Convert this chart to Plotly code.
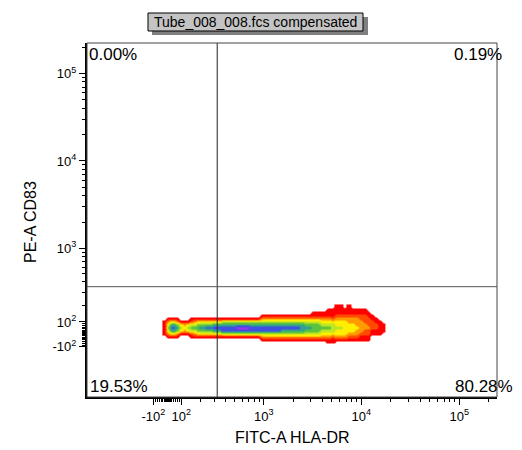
import numpy as np
import plotly.graph_objects as go

# ---------------- data ----------------
TITLE = "Tube_008_008.fcs compensated"
X_LABEL = "FITC-A HLA-DR"
Y_LABEL = "PE-A CD83"

# quadrant gate (data units) and quadrant percentages
GATE_X = 320.0
GATE_Y = 350.0
Q_UL = "0.00%"
Q_UR = "0.19%"
Q_LL = "19.53%"
Q_LR = "80.28%"

# axis extents (data units)
X_MIN, X_MAX = -680.0, 243000.0
Y_MIN, Y_MAX = -530.0, 223000.0

# major ticks and labels
MAJOR_VALS = [-100, 100, 1000, 10000, 100000]
MAJOR_TEXT = ["-10<sup>2</sup>", "10<sup>2</sup>", "10<sup>3</sup>", "10<sup>4</sup>", "10<sup>5</sup>"]
MINOR_VALS = ([-90, -80, -70, -60, -50, -40, -30, -20, -10, 0, 10, 20, 30, 40, 50, 60, 70, 80, 90]
              + [200, 300, 400, 500, 600, 700, 800, 900]
              + [2000, 3000, 4000, 5000, 6000, 7000, 8000, 9000]
              + [20000, 30000, 40000, 50000, 60000, 70000, 80000, 90000, 200000])

# density grid (display-space bins), one string per column, top row first
# 0 empty, 1 red, 2 red-orange, 3 orange, 4 yellow, 5 yellow-green, 6 green, 7 teal, 8 blue, 9 purple
DENSITY_COLS = [
    "0000011111000",
    "0000135653100",
    "0000147874100",
    "0000136763100",
    "0000014541000",
    "0000013431000",
    "0000014541000",
    "0000125652100",
    "0000135653100",
    "0000146764100",
    "0000146764100",
    "0000146864100",
    "0000146864100",
    "0000147874100",
    "0000147874100",
    "0000157885100",
    "0000157885100",
    "0000157885100",
    "0000157885100",
    "0000157985100",
    "0000157985100",
    "0000157985100",
    "0000157885100",
    "0000157885100",
    "0000157885100",
    "0001357885310",
    "0001357885310",
    "0001357885310",
    "0001357885310",
    "0001357885310",
    "0001357875310",
    "0001357875310",
    "0001357875310",
    "0001357875310",
    "0001357875310",
    "0001357775310",
    "0001356765310",
    "0001356765310",
    "0011356665310",
    "0011356665310",
    "0011345654310",
    "0011345654310",
    "0111345654311",
    "0111245554211",
    "1112344544310",
    "1112344544310",
    "0112344444310",
    "1112334443210",
    "0112334443210",
    "0112333433210",
    "0112233332110",
    "0112223322110",
    "0011222322110",
    "0001122211000",
    "0000112211000",
    "0000011111000",
    "0000001110000",
]
DENSITY_COLORS = ["#ffffff", "#ff0000", "#ff4a00", "#ff9a00", "#ffee00",
                  "#bfe620", "#5cc43c", "#2fa090", "#3f4fe0", "#a030f0"]

# display-space binning of the density grid
X_BIN0, X_BINW = -0.05, 0.04
Y_BIN0, Y_BINW = -0.1036, 0.0343

# ---------------- scale ----------------
C = 104.0


def biex(v):
    v = np.asarray(v, dtype=float)
    return np.sign(v) * 0.5 * np.log10(1.0 + (v / C) ** 2)


ncol = len(DENSITY_COLS)
nrow = len(DENSITY_COLS[0])
z = [[int(DENSITY_COLS[c][nrow - 1 - r]) for c in range(ncol)] for r in range(nrow)]
xc = X_BIN0 + X_BINW * (np.arange(ncol) + 0.5)
yc = Y_BIN0 + Y_BINW * (np.arange(nrow) + 0.5)

nlev = len(DENSITY_COLORS)
cs = []
for k, col in enumerate(DENSITY_COLORS):
    lo = max(0.0, (k - 0.5) / (nlev - 1))
    hi = min(1.0, (k + 0.5) / (nlev - 1))
    cs.append([lo, col])
    cs.append([hi, col])

FONT = "Liberation Sans, Arial, sans-serif"
W, H = 522, 450
ML, MR, MT, MB = 87, 25, 43, 53
PW, PH = W - ML - MR, H - MT - MB


def px(xp):
    return (xp - ML) / PW


def py(yp):
    return (H - MB - yp) / PH


fig = go.Figure()
fig.add_trace(go.Heatmap(
    x=xc, y=yc, z=z, colorscale=cs, zmin=0, zmax=nlev - 1,
    zsmooth="best", showscale=False, hoverinfo="skip",
))

gx = float(biex(GATE_X))
gy = float(biex(GATE_Y))
fig.add_shape(type="line", xref="x", yref="paper", x0=gx, x1=gx, y0=0, y1=1,
              line=dict(color="#222222", width=1), layer="above")
fig.add_shape(type="line", xref="paper", yref="y", x0=0, x1=1, y0=gy, y1=gy,
              line=dict(color="#555555", width=1), layer="above")
fig.add_shape(type="rect", xref="paper", yref="paper", x0=0, x1=1, y0=0, y1=1,
              line=dict(color="#444444", width=1), layer="above")

axis_common = dict(
    tickmode="array", ticks="outside", ticklen=6, tickwidth=1, tickcolor="black",
    showline=True, linecolor="black", linewidth=2, showgrid=False, zeroline=False,
    automargin=False,
    tickfont=dict(family=FONT, size=13, color="black"),
    minor=dict(tickmode="array", tickvals=list(biex(MINOR_VALS)), ticks="outside",
               ticklen=3, tickwidth=1, tickcolor="black", showgrid=False),
)
fig.update_xaxes(range=[float(biex(X_MIN)), float(biex(X_MAX))],
                 tickvals=list(biex(MAJOR_VALS)), ticktext=MAJOR_TEXT, **axis_common)
fig.update_yaxes(range=[float(biex(Y_MIN)), float(biex(Y_MAX))],
                 tickvals=list(biex(MAJOR_VALS)), ticktext=MAJOR_TEXT, **axis_common)

pct_font = dict(family=FONT, size=17, color="black")
anns = [
    dict(text=Q_UL, x=0, y=1, xanchor="left", yanchor="top", xshift=0, yshift=0),
    dict(text=Q_UR, x=1, y=1, xanchor="right", yanchor="top", xshift=7, yshift=0),
    dict(text=Q_LL, x=0, y=0, xanchor="left", yanchor="bottom", xshift=1, yshift=-1),
    dict(text=Q_LR, x=1, y=0, xanchor="right", yanchor="bottom", xshift=18, yshift=-1),
]
for a in anns:
    fig.add_annotation(xref="paper", yref="paper", showarrow=False, font=pct_font, **a)

# title box with drop shadow
fig.add_shape(type="rect", xref="paper", yref="paper", x0=px(152), x1=px(368),
              y0=py(35), y1=py(17), line=dict(width=0), fillcolor="#808080", layer="above")
fig.add_shape(type="rect", xref="paper", yref="paper", x0=px(148), x1=px(363),
              y0=py(31), y1=py(13), line=dict(color="black", width=1), fillcolor="#c4c4c4",
              layer="above")
fig.add_annotation(xref="paper", yref="paper", x=px(255.5), y=py(22), xanchor="center",
                   yanchor="middle", showarrow=False, text=TITLE,
                   font=dict(family=FONT, size=14, color="black"))

# axis titles
fig.add_annotation(xref="paper", yref="paper", x=0.5, y=py(437), xanchor="center",
                   yanchor="middle", showarrow=False, text=X_LABEL,
                   font=dict(family=FONT, size=16, color="black"))
fig.add_annotation(xref="paper", yref="paper", x=px(30), y=py(222),
                   xanchor="center", yanchor="middle", showarrow=False, text=Y_LABEL,
                   textangle=-90, font=dict(family=FONT, size=16, color="black"))

fig.update_layout(
    width=W, height=H, margin=dict(l=ML, r=MR, t=MT, b=MB),
    paper_bgcolor="white", plot_bgcolor="white", showlegend=False,
    font=dict(family=FONT, color="black"),
)

fig.write_html("out.html", config={"displayModeBar": False},
               post_script="document.body.style.margin='0';document.body.style.overflow='hidden';")
